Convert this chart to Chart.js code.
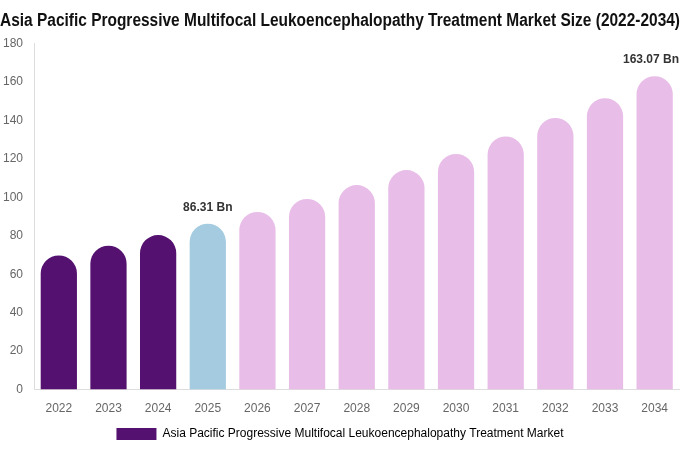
<!DOCTYPE html>
<html>
<head>
<meta charset="utf-8">
<script src="https://cdn.jsdelivr.net/npm/chart.js@4/dist/chart.umd.min.js"></script>
<style>
html,body{margin:0;padding:0;background:#fff;}
#wrap{width:680px;height:450px;}
</style>
</head>
<body>
<div id="wrap"><canvas id="c"></canvas></div>
<script>
const categories = ["2022","2023","2024","2025","2026","2027","2028","2029","2030","2031","2032","2033","2034"];
const marketValues = [69.8, 74.9, 80.4, 86.31, 92.4, 99.2, 106.4, 114.2, 122.6, 131.7, 141.3, 151.6, 163.07];
const barColors = ["#541170","#541170","#541170","#a4cbdf","#e8bde8","#e8bde8","#e8bde8","#e8bde8","#e8bde8","#e8bde8","#e8bde8","#e8bde8","#e8bde8"];
const labelledIndices = [3, 12];
const yTicks = [0,20,40,60,80,100,120,140,160,180];
const seriesName = "Asia Pacific Progressive Multifocal Leukoencephalopathy Treatment Market";
const titleText = "Asia Pacific Progressive Multifocal Leukoencephalopathy Treatment Market Size (2022-2034)";

const valueLabels = {
  id: 'valueLabels',
  afterDatasetsDraw(chart) {
    const ctx = chart.ctx;
    const meta = chart.getDatasetMeta(0);
    ctx.save();
    ctx.font = 'bold 12px "Liberation Sans", Arial, sans-serif';
    ctx.fillStyle = '#333';
    ctx.textAlign = 'center';
    ctx.textBaseline = 'middle';
    labelledIndices.forEach(i => {
      const el = meta.data[i];
      const txt = marketValues[i].toFixed(2) + ' Bn';
      const w = ctx.measureText(txt).width;
      const x = Math.min(el.x, chart.width - w / 2 - 1);
      ctx.fillText(txt, x, el.y - 16);
    });
    ctx.restore();
  }
};

new Chart(document.getElementById('c'), {
  type: 'bar',
  data: {
    labels: categories,
    datasets: [{
      label: seriesName,
      data: marketValues,
      backgroundColor: barColors,
      borderRadius: {topLeft: 100, topRight: 100, bottomLeft: 0, bottomRight: 0},
      borderSkipped: false,
      barPercentage: 0.73,
      categoryPercentage: 1.0
    }]
  },
  options: {
    responsive: true,
    maintainAspectRatio: false,
    animation: false,
    layout: {padding: {left: 0, right: 0, top: 0, bottom: 0}},
    plugins: {
      title: {
        display: true,
        text: titleText,
        color: '#111',
        font: {family: '"Liberation Sans Narrow", "Liberation Sans", Arial, sans-serif', size: 18, weight: 'bold'},
        padding: {top: 10, bottom: 12}
      },
      legend: {
        position: 'bottom',
        labels: {
          boxWidth: 40,
          boxHeight: 12,
          color: '#666',
          padding: 0,
          font: {family: '"Liberation Sans", Arial, sans-serif', size: 12},
          generateLabels() {
            return [{text: seriesName, fillStyle: '#541170', strokeStyle: '#541170', lineWidth: 0, datasetIndex: 0}];
          }
        }
      },
      tooltip: {enabled: false}
    },
    scales: {
      x: {
        grid: {display: false, drawTicks: false},
        border: {display: true, color: '#ddd'},
        ticks: {color: '#666', font: {family: '"Liberation Sans", Arial, sans-serif', size: 12}, padding: 12}
      },
      y: {
        min: 0,
        max: 180,
        afterBuildTicks(scale) { scale.ticks = yTicks.map(v => ({value: v})); },
        afterFit(scale) { scale.width = 34; },
        grid: {display: false, drawTicks: false},
        border: {display: true, color: '#ddd'},
        ticks: {color: '#666', font: {family: '"Liberation Sans", Arial, sans-serif', size: 12}, padding: 11}
      }
    }
  },
  plugins: [valueLabels]
});
</script>
</body>
</html>
